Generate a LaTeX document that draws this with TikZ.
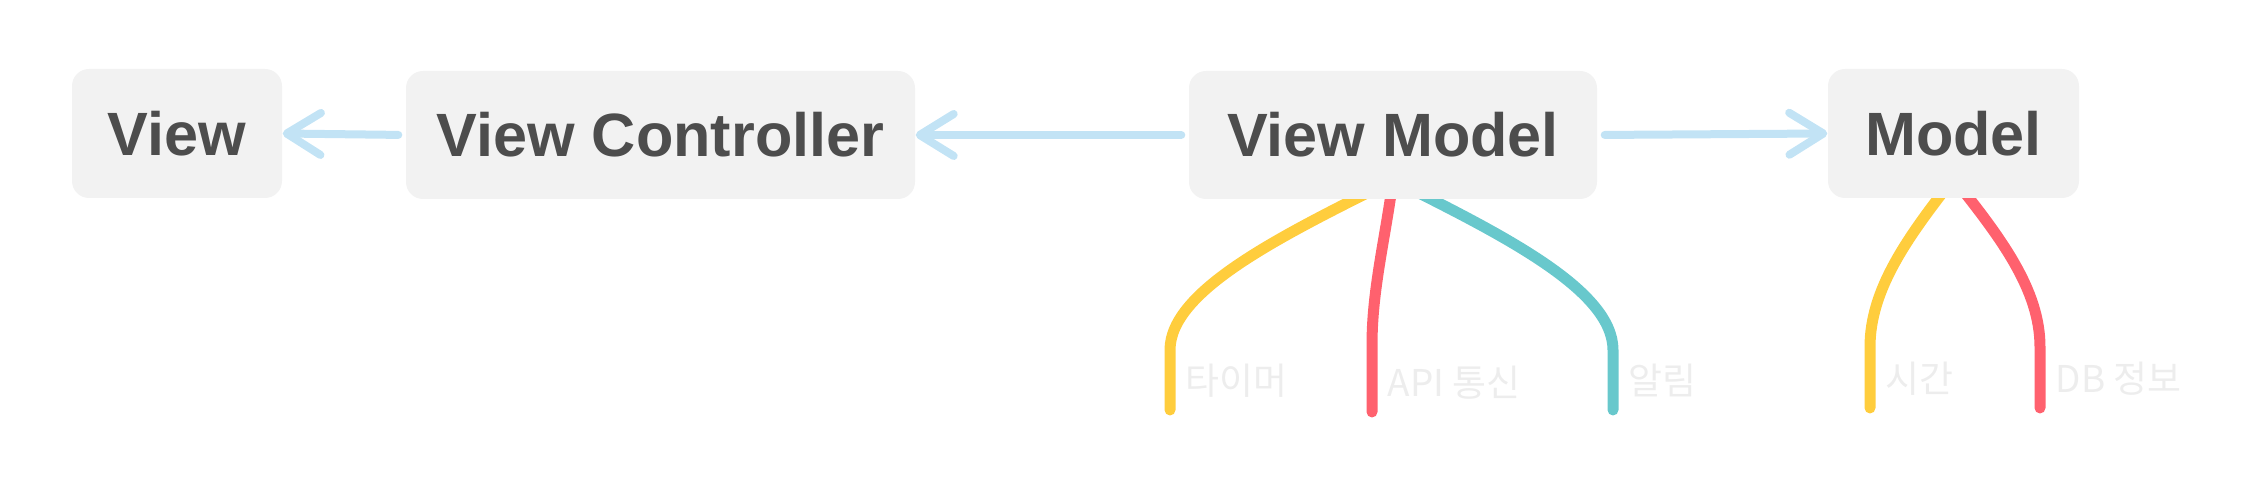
\documentclass[tikz,border=0pt]{standalone}
\usepackage{fontspec}
\setmainfont{Liberation Sans}
\newfontfamily\krfont{Noto Sans CJK KR}
\usepackage{tikz}
\usetikzlibrary{arrows.meta, positioning, backgrounds}
\usepackage{xcolor}

\definecolor{boxgray}{HTML}{F2F2F2}
\definecolor{txtgray}{HTML}{4D4D4D}
\definecolor{arrowblue}{HTML}{C2E3F5}
\definecolor{lineyellow}{HTML}{FFCD3D}
\definecolor{linered}{HTML}{FF616E}
\definecolor{lineteal}{HTML}{68C8CC}
\definecolor{lblgray}{HTML}{EDEDED}

\tikzset{
  mvbox/.style={fill=boxgray, draw=none, rounded corners=1.7mm, text=txtgray,
    font=\fontsize{17.4}{20}\selectfont\bfseries, inner sep=0pt},
  flow/.style={draw=arrowblue, line width=0.8mm, line cap=round,
    -{Straight Barb[length=3.4mm, width=4.2mm, round]}, shorten <=0.7mm},
  branch/.style={line width=1.1mm, line cap=round},
  lbl/.style={font=\krfont\fontsize{10.5}{12}\selectfont, text=lblgray,
    anchor=base west, inner sep=0pt}
}

\begin{document}
\begin{tikzpicture}[x=0.1mm, y=-0.1mm]
  \useasboundingbox (0,0) rectangle (2266,480);

  % Boxes
  \node[mvbox, minimum width=21mm, minimum height=12.9mm] (view) at (177,133.5) {View};
  \node[mvbox, minimum width=50.9mm, minimum height=12.8mm] (vc) at (660.5,135) {View Controller};
  \node[mvbox, minimum width=40.8mm, minimum height=12.8mm] (vm) at (1393,135) {View Model};
  \node[mvbox, minimum width=25.1mm, minimum height=12.9mm] (model) at (1953.5,133.5) {Model};

  % Arrows
  \draw[flow] (vc.west) -- (view.east);
  \draw[flow] (vm.west) -- (vc.east);
  \draw[flow] (vm.east) -- (model.west);

  % Branch ends
  \coordinate (timer) at (1170,410);
  \coordinate (api) at (1372,412);
  \coordinate (alarm) at (1613,410);
  \coordinate (clock) at (1870,408);
  \coordinate (db) at (2040,408);

  % Branches (behind the boxes)
  \begin{scope}[on background layer]
    \draw[branch, draw=lineyellow] ([yshift=-4.5mm]vm.center) .. controls +(-110,55) and +(0,-60) .. ([yshift=6mm]timer) -- (timer);
    \draw[branch, draw=linered] ([yshift=-4.5mm]vm.center) .. controls +(-8,60) and +(0,-55) .. ([yshift=6.7mm]api) -- (api);
    \draw[branch, draw=lineteal] ([yshift=-4.5mm]vm.center) .. controls +(110,55) and +(0,-60) .. ([yshift=6mm]alarm) -- (alarm);
    \draw[branch, draw=lineyellow] ([yshift=-4.5mm]model.center) .. controls +(-47,60) and +(0,-57) .. ([yshift=6.1mm]clock) -- (clock);
    \draw[branch, draw=linered] ([yshift=-4.5mm]model.center) .. controls +(48,60) and +(0,-57) .. ([yshift=6.1mm]db) -- (db);
  \end{scope}

  % Labels
  \foreach \pt/\txt in {timer/타이머, api/API 통신, alarm/알림, clock/시간, db/DB 정보}
    \node[lbl] (\pt lbl) at ([xshift=1.5mm, yshift=1.5mm]\pt) {\txt};

\end{tikzpicture}
\end{document}
